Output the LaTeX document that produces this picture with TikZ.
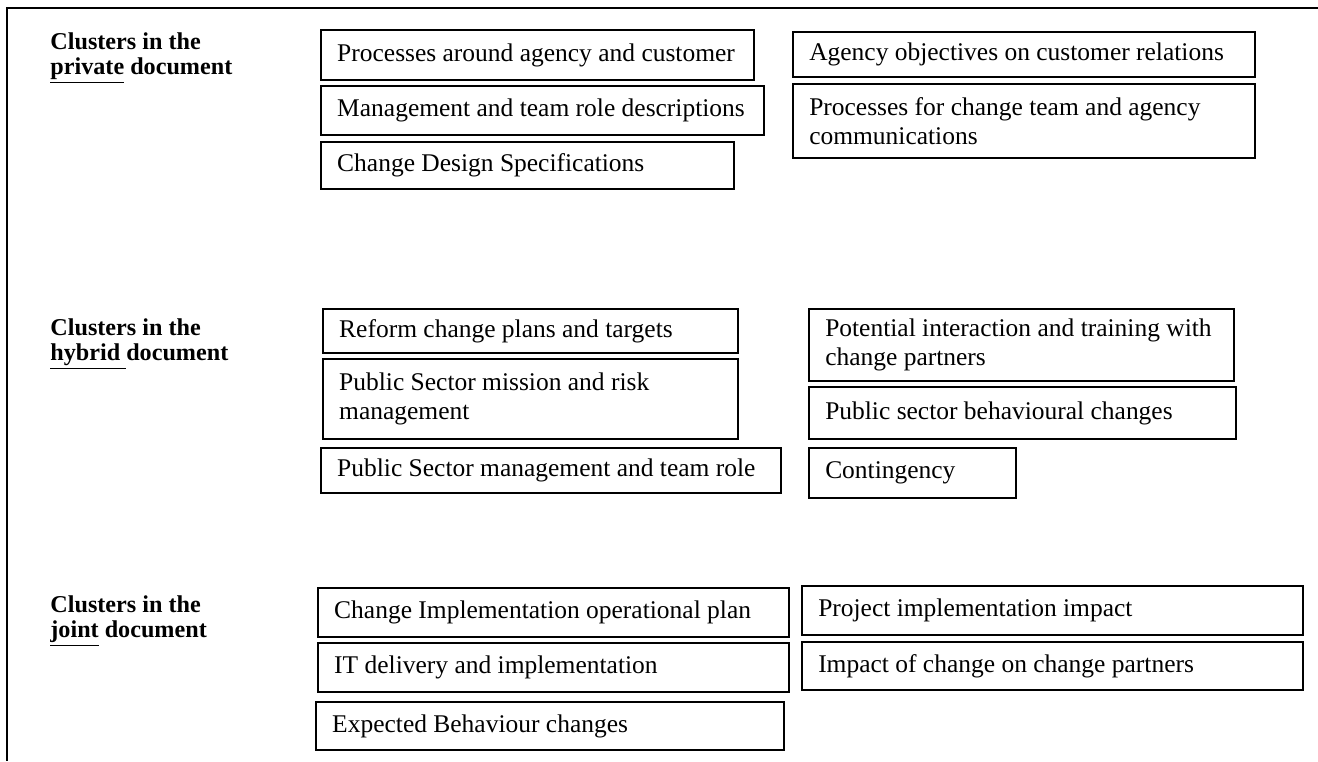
\documentclass[tikz,border=0pt]{standalone}
\usepackage{fontspec}
\setmainfont{Liberation Serif}

\begin{document}
\begin{tikzpicture}[
    x=0.16mm,
    y=-0.16mm,
    cluster/.style={
        draw,
        line width=0.9pt,
        anchor=north west,
        align=flush left,
        font=\fontsize{11.6}{13}\selectfont,
        inner xsep=2.6mm,
        inner ysep=0pt
    },
    heading/.style={
        anchor=west,
        align=left,
        inner sep=0pt,
        font=\fontsize{11}{11.3}\selectfont\bfseries
    }
]
\useasboundingbox (0,0) rectangle (1318,761);

% frame
\draw[line width=1.2pt] (1318,8) -- (7,8) -- (7,761);

% private document
\node[heading] (privlabel) at (50,58) {Clusters in the\\\underline{private} document};

\node[cluster, text width=64.1mm, minimum height=8mm] (priv1) at (320,29)
{Processes around agency and customer};
\node[cluster, text width=65.7mm, minimum height=7.84mm] (priv2) at (320,85)
{Management and team role descriptions};
\node[cluster, text width=60.9mm, minimum height=7.52mm] (priv3) at (320,141)
{Change Design Specifications};
\node[cluster, text width=68.7mm, minimum height=7.2mm] (priv4) at (792,31)
{Agency objectives on customer relations};
\node[cluster, text width=68.7mm, minimum height=11.84mm] (priv5) at (792,83)
{Processes for change team and agency\\communications};

% hybrid document
\node[heading] (hyblabel) at (50,344) {Clusters in the\\\underline{hybrid\ }document};

\node[cluster, text width=61.2mm, minimum height=7.04mm] (hyb1) at (322,308)
{Reform change plans and targets};
\node[cluster, text width=61.2mm, minimum height=12.8mm] (hyb2) at (322,358)
{Public Sector mission and risk\\management};
\node[cluster, text width=68.4mm, minimum height=7.2mm] (hyb3) at (320,447)
{Public Sector management and team role};
\node[cluster, text width=62.8mm, minimum height=11.52mm] (hyb4) at (808,308)
{Potential interaction and training with\\change partners};
\node[cluster, text width=63.1mm, minimum height=8.32mm] (hyb5) at (808,386)
{Public sector behavioural changes};
\node[cluster, text width=27.9mm, minimum height=8mm] (hyb6) at (808,447)
{Contingency};

% joint document
\node[heading] (jointlabel) at (50,621) {Clusters in the\\\underline{joint} document};

\node[cluster, text width=70.2mm, minimum height=7.84mm] (joint1) at (317,587)
{Change Implementation operational plan};
\node[cluster, text width=70.2mm, minimum height=7.84mm] (joint2) at (317,642)
{IT delivery and implementation};
\node[cluster, text width=69.7mm, minimum height=7.68mm] (joint3) at (315,701)
{Expected Behaviour changes};
\node[cluster, text width=75mm, minimum height=7.84mm] (joint4) at (801,585)
{Project implementation impact};
\node[cluster, text width=75mm, minimum height=7.68mm] (joint5) at (801,641)
{Impact of change on change partners};

\end{tikzpicture}
\end{document}
